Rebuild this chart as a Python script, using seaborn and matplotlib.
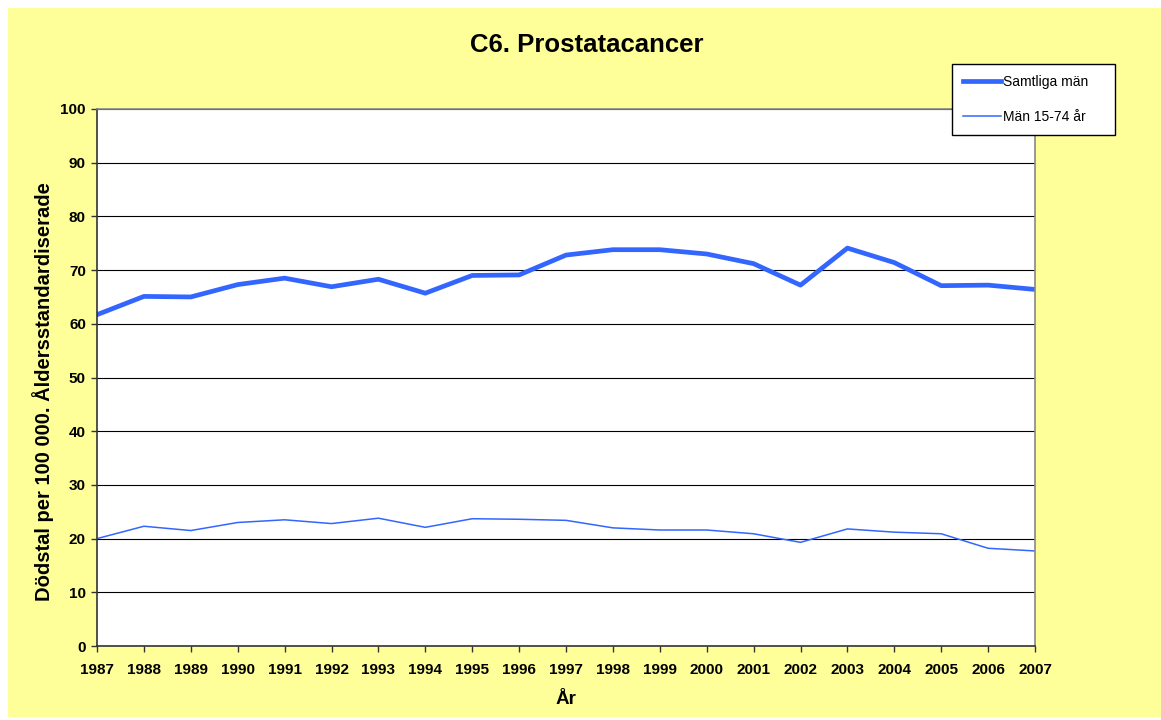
import matplotlib
matplotlib.use("Agg")
import matplotlib.pyplot as plt
from matplotlib.patches import Rectangle
import pandas as pd
import seaborn as sns

# Data
years = list(range(1987, 2008))
samtliga = [61.7, 65.1, 65.0, 67.3, 68.5, 66.9, 68.3, 65.7, 69.0, 69.1, 72.8,
            73.8, 73.8, 73.0, 71.2, 67.2, 74.1, 71.4, 67.1, 67.2, 66.4]
man_15_74 = [20.0, 22.3, 21.5, 23.0, 23.5, 22.8, 23.8, 22.1, 23.7, 23.6, 23.4,
             22.0, 21.6, 21.6, 20.9, 19.3, 21.8, 21.2, 20.9, 18.2, 17.7]

df = pd.DataFrame({"År": years, "Samtliga män": samtliga, "Män 15-74 år": man_15_74})

plt.rcParams['font.family'] = ['Liberation Sans', 'DejaVu Sans']

blue = '#3366FF'

fig = plt.figure(figsize=(11.61, 7.2), dpi=100, facecolor='white')
# Yellow chart area (behind the axes)
bg = Rectangle((8 / 1161, 3 / 720), 1 - 8 / 1161, 1 - 11 / 720,
               transform=fig.transFigure, facecolor='#FFFF99',
               edgecolor='none', zorder=-10)
fig.add_artist(bg)

ax = fig.add_axes([97 / 1161, 1 - 646 / 720, (1035 - 97) / 1161, (646 - 109) / 720])
ax.set_facecolor('white')

sns.lineplot(data=df, x="År", y="Samtliga män", ax=ax, color=blue, linewidth=3.4,
             label="Samtliga män")
sns.lineplot(data=df, x="År", y="Män 15-74 år", ax=ax, color=blue, linewidth=1.1,
             label="Män 15-74 år")

ax.set_xlim(1987, 2007)
ax.set_ylim(0, 100)
ax.set_xticks(years)
ax.set_yticks(range(0, 101, 10))
ax.yaxis.grid(True, color='black', linewidth=0.8)
ax.set_axisbelow(True)

for lab in ax.get_xticklabels() + ax.get_yticklabels():
    lab.set_fontweight('bold')
    lab.set_fontsize(11)
ax.tick_params(axis='both', direction='out', length=4, width=1, colors='#333333',
               labelcolor='black')
ax.tick_params(axis='x', pad=8)
ax.tick_params(axis='y', pad=4)

ax.spines['left'].set_color('#333333')
ax.spines['bottom'].set_color('#333333')
ax.spines['top'].set_color('#888888')
ax.spines['right'].set_color('#888888')
for s in ax.spines.values():
    s.set_linewidth(1.2)

ax.set_xlabel("År", fontsize=13.5, fontweight='bold', labelpad=10)
ax.set_ylabel("Dödstal per 100 000. Åldersstandardiserade", fontsize=14.5,
              fontweight='bold', labelpad=4.5)
ax.yaxis.label.set_y(0.473)

fig.text(587 / 1161, 1 - 45 / 720, "C6. Prostatacancer", ha='center', va='center',
         fontsize=18.5, fontweight='bold')

leg = ax.legend(loc='upper left',
                bbox_to_anchor=(952 / 1161, 1 - 135 / 720, 163 / 1161, 71 / 720),
                bbox_transform=fig.transFigure, mode='expand',
                frameon=True, fancybox=False,
                edgecolor='black', facecolor='white', framealpha=1,
                fontsize=10, handlelength=2.7, handletextpad=0.2,
                labelspacing=1.5, borderpad=0.8, borderaxespad=0)
leg.get_frame().set_linewidth(1)

fig.savefig("out.png", dpi=100)
